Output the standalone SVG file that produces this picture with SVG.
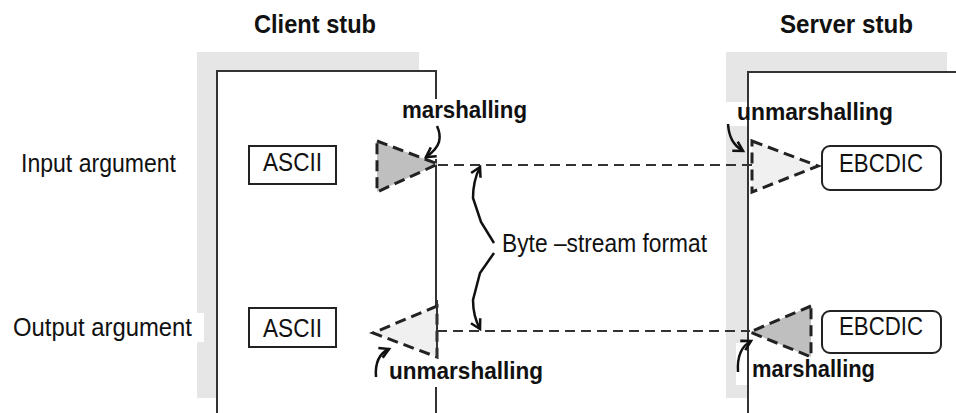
<svg xmlns="http://www.w3.org/2000/svg" width="956" height="413" viewBox="0 0 956 413">
  <style>
    .lbl { font-family: "Liberation Sans", Arial, sans-serif; font-size: 25.5px; fill: #111; }
    .bold { font-family: "Liberation Sans", Arial, sans-serif; font-size: 24.5px; font-weight: bold; fill: #111; }
    .head { font-family: "Liberation Sans", Arial, sans-serif; font-size: 25px; font-weight: bold; fill: #111; }
    .shadow { fill: #e6e6e6; }
    .box { fill: #fff; stroke: #333; stroke-width: 2; }
    .fmt { fill: #fff; stroke: #222; stroke-width: 2; }
    .dash { fill: none; stroke: #333; stroke-width: 2; stroke-dasharray: 10 6; }
    .tri { stroke: #222; stroke-width: 3; stroke-dasharray: 11 6; }
    .dark { fill: #bfbfbf; }
    .light { fill: #f0f0f0; }
    .curve { fill: none; stroke: #111; stroke-width: 2.5; marker-end: url(#arr); }
    .bg { fill: #fff; }
  </style>
  <defs>
    <marker id="arr" markerUnits="userSpaceOnUse" markerWidth="14" markerHeight="14" refX="9" refY="5" orient="auto" viewBox="0 0 12 10">
      <path d="M1,0.5 L9,5 L1,9.5" fill="none" stroke="#111" stroke-width="2.2"/>
    </marker>
  </defs>

  <rect width="956" height="413" fill="#fff"/>

  <g id="client-stub">
    <rect class="shadow" x="197" y="52" width="222" height="346"/>
    <rect class="box" x="217" y="71" width="219" height="360"/>
    <text class="head" x="254" y="33" textLength="122" lengthAdjust="spacingAndGlyphs">Client stub</text>
  </g>

  <g id="server-stub">
    <rect class="shadow" x="726" y="52" width="221" height="346"/>
    <rect class="box" x="748" y="72" width="230" height="360"/>
    <text class="head" x="780" y="33" textLength="133" lengthAdjust="spacingAndGlyphs">Server stub</text>
  </g>

  <g id="input-label">
    <text class="lbl" x="21" y="172" textLength="155" lengthAdjust="spacingAndGlyphs">Input argument</text>
  </g>
  <g id="output-label">
    <rect class="bg" x="5" y="313" width="199" height="29"/>
    <text class="lbl" x="13" y="336" textLength="179" lengthAdjust="spacingAndGlyphs">Output argument</text>
  </g>

  <g id="ascii-in">
    <rect class="fmt" x="249" y="146" width="87" height="38"/>
    <text class="lbl" x="263" y="171" textLength="59" lengthAdjust="spacingAndGlyphs">ASCII</text>
  </g>
  <g id="ascii-out">
    <rect class="fmt" x="249" y="308" width="87" height="39"/>
    <text class="lbl" x="263" y="337" textLength="59" lengthAdjust="spacingAndGlyphs">ASCII</text>
  </g>
  <g id="ebcdic-in">
    <rect class="fmt" x="822" y="146" width="119" height="44" rx="8"/>
    <text class="lbl" x="839" y="172" textLength="84" lengthAdjust="spacingAndGlyphs">EBCDIC</text>
  </g>
  <g id="ebcdic-out">
    <rect class="fmt" x="822" y="311" width="119" height="42" rx="8"/>
    <text class="lbl" x="839" y="335" textLength="84" lengthAdjust="spacingAndGlyphs">EBCDIC</text>
  </g>

  <g id="connectors">
    <line class="dash" x1="438" y1="165" x2="752" y2="165"/>
    <line class="dash" x1="437" y1="331" x2="750" y2="331"/>
  </g>

  <g id="marshal-in">
    <rect class="bg" x="431" y="99" width="12" height="60"/>
    <polygon class="tri dark" points="377,141 438,164 377,192"/>
    <text class="bold" x="402" y="118" textLength="125" lengthAdjust="spacingAndGlyphs">marshalling</text>
    <path class="curve" d="M437,126 C442,137 441,147 426,157"/>
  </g>

  <g id="unmarshal-in">
    <rect class="bg" x="726" y="102" width="21" height="24"/>
    <polygon class="tri light" points="752,141 818,166 752,192"/>
    <text class="bold" x="737" y="120" textLength="156" lengthAdjust="spacingAndGlyphs">unmarshalling</text>
    <path class="curve" d="M728,124 C729,137 733,145 743,151"/>
  </g>

  <g id="unmarshal-out">
    <rect class="bg" x="430" y="358" width="14" height="29"/>
    <polygon class="tri light" points="437,306 373,333 437,357"/>
    <line x1="437" y1="300" x2="437" y2="358" stroke="#333" stroke-width="2"/>
    <text class="bold" x="389" y="379" textLength="154" lengthAdjust="spacingAndGlyphs">unmarshalling</text>
    <path class="curve" d="M376,377 C375,364 378,354 389,349"/>
  </g>

  <g id="marshal-out">
    <rect class="bg" x="736" y="343" width="11" height="42"/>
    <polygon class="tri dark" points="811,306 750,332 811,357"/>
    <text class="bold" x="752" y="377" textLength="123" lengthAdjust="spacingAndGlyphs">marshalling</text>
    <path class="curve" d="M738,372 C737,358 740,347 751,341"/>
  </g>

  <g id="byte-stream">
    <path class="curve" d="M494,243 L481,222 L473,198 Q473,181 480,167"/>
    <path class="curve" d="M494,253 L480,273 L473,300 Q473,316 480,329"/>
    <text class="lbl" x="502" y="252" textLength="205" lengthAdjust="spacingAndGlyphs">Byte –stream format</text>
  </g>
</svg>
